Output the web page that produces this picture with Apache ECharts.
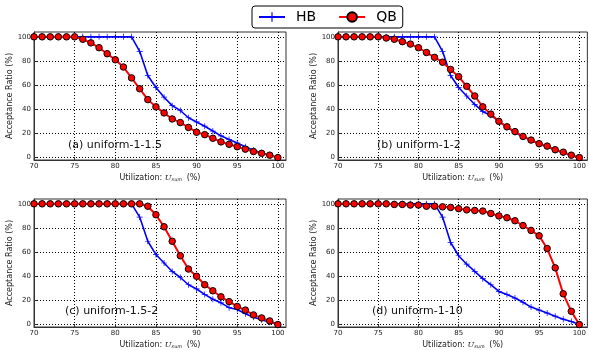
<!DOCTYPE html>
<html>
<head>
<meta charset="utf-8">
<script src="https://cdn.jsdelivr.net/npm/echarts@6/dist/echarts.min.js"></script>
<style>
  html, body { margin: 0; padding: 0; background: #fff; }
  #chart { width: 589px; height: 350px; }
</style>
</head>
<body>
<div id="chart"></div>
<script>
// utilization (%) on the x axis
const utilization = [70, 71, 72, 73, 74, 75, 76, 77, 78, 79, 80, 81, 82, 83, 84, 85,
  86, 87, 88, 89, 90, 91, 92, 93, 94, 95, 96, 97, 98, 99, 100];

// acceptance ratio (%), one pair per panel
const hbA = [100, 100, 100, 100, 100, 100, 100, 100, 100, 100, 100, 100, 100, 88, 68, 58,
  50, 43, 39, 33, 29.5, 26, 22, 18, 15, 12, 9, 6, 4, 2, 0];
const qbA = [100, 100, 100, 100, 100, 100, 98, 95, 91, 86, 81, 75, 66, 57, 48, 42,
  37, 32, 29, 25, 21, 19, 16, 13, 11, 9, 7, 5, 3.5, 2, 0];

const hbB = [100, 100, 100, 100, 100, 100, 100, 100, 100, 100, 100, 100, 100, 88, 68, 58,
  51, 44, 38, 35, 30, 25, 21, 17, 14.5, 11, 9, 6, 4, 2, 0];
const qbB = [100, 100, 100, 100, 100, 100, 99, 98, 96, 94, 91, 87, 83, 79, 73, 67,
  59, 51, 42, 36, 30, 25.5, 21.5, 17.5, 14.5, 11.5, 9.5, 6.5, 4.5, 2, 0];

const hbC = [100, 100, 100, 100, 100, 100, 100, 100, 100, 100, 100, 100, 100, 89, 69, 58,
  51, 44, 39, 33, 29.5, 25, 21, 18, 14, 12.5, 9, 6, 4, 2, 0];
const qbC = [100, 100, 100, 100, 100, 100, 100, 100, 100, 100, 100, 100, 100, 100, 98, 91,
  81, 69, 57, 46, 40, 33, 28, 23, 19, 15, 12, 8, 5.5, 3, 0];

const hbD = [100, 100, 100, 100, 100, 100, 100, 100, 100, 100, 100, 100, 100, 89, 68, 57,
  50, 44, 38, 33, 27.5, 25, 22, 18.5, 14.5, 12, 9.5, 7, 4.5, 2.5, 0];
const qbD = [100, 100, 100, 100, 100, 100, 100, 99.5, 99.5, 99, 99, 98, 98, 97.5, 97, 96,
  95, 94.5, 94, 92, 90, 88.5, 86, 82, 78, 73.5, 63, 47, 25.5, 11, 0];

const xTicks = [70, 75, 80, 85, 90, 95, 100];
const yTicks = [0, 20, 40, 60, 80, 100];

const panelLabels = ['(a) uniform-1-1.5', '(b) uniform-1-2', '(c) uniform-1.5-2', '(d) uniform-1-10'];
const panelData = [[hbA, qbA], [hbB, qbB], [hbC, qbC], [hbD, qbD]];

const FONT = 'DejaVu Sans';
const plus = 'path://M4.4,0H5.6V4.4H10V5.6H5.6V10H4.4V5.6H0V4.4H4.4Z';

const grids = [
  { left: 34, top: 32, width: 252, height: 128 },
  { left: 338, top: 32, width: 250, height: 128 },
  { left: 34, top: 199, width: 252, height: 129 },
  { left: 338, top: 199, width: 250, height: 129 },
];
const labelPos = [[68, 147], [377, 147], [65, 313], [372, 313]];

const chart = echarts.init(document.getElementById('chart'));

const pairs = (ys) => utilization.map((x, i) => [x, ys[i]]);

const dotted = { show: true, lineStyle: { color: '#000', width: 1, type: [1, 2] } };

const option = {
  animation: false,
  textStyle: { fontFamily: FONT },
  legend: {
    data: ['HB', 'QB'],
    left: 252,
    top: 6,
    padding: [4, 6, 4, 6],
    itemGap: 22,
    itemWidth: 26,
    itemHeight: 12,
    borderColor: '#000',
    borderWidth: 1,
    borderRadius: 3,
    textStyle: { fontSize: 14, color: '#000', fontFamily: FONT, padding: [0, 0, 0, 6] },
  },
  grid: grids.map((g) => ({ ...g, show: true, borderColor: '#333', borderWidth: 1 })),
  xAxis: grids.map((g, i) => ({
    gridIndex: i,
    type: 'value',
    min: 70,
    max: 101,
    name: 'Utilization: {u|U}{s|sum} (%)',
    nameLocation: 'middle',
    nameGap: 13,
    nameTextStyle: {
      fontSize: 8,
      color: '#222',
      verticalAlign: 'top',
      rich: {
        u: { fontFamily: 'DejaVu Serif', fontStyle: 'italic', fontSize: 8, color: '#222' },
        s: { fontFamily: 'DejaVu Serif', fontStyle: 'italic', fontSize: 5, color: '#222', verticalAlign: 'bottom', padding: [4, 2, 0, 0] },
      },
    },
    axisLine: { show: true, onZero: false, lineStyle: { color: '#333' } },
    axisTick: { show: true, inside: true, length: 3, customValues: xTicks, lineStyle: { color: '#333' } },
    axisLabel: { fontSize: 7, color: '#222', margin: 3, customValues: xTicks },
    splitLine: dotted,
  })),
  yAxis: grids.map((g, i) => ({
    gridIndex: i,
    type: 'value',
    min: -2,
    max: 104,
    name: 'Acceptance Ratio (%)',
    nameLocation: 'middle',
    nameGap: 16,
    nameTextStyle: { fontSize: 8, color: '#222' },
    axisLine: { show: true, onZero: false, lineStyle: { color: '#333' } },
    axisTick: { show: true, inside: true, length: 3, customValues: yTicks, lineStyle: { color: '#333' } },
    axisLabel: { fontSize: 7, color: '#222', margin: 3, customValues: yTicks },
    splitLine: dotted,
  })),
  series: panelData.flatMap(([hb, qb], i) => [
    {
      name: 'HB',
      type: 'line',
      xAxisIndex: i,
      yAxisIndex: i,
      data: pairs(hb),
      symbol: plus,
      symbolSize: 6,
      showSymbol: true,
      lineStyle: { color: '#0000ff', width: 1.6 },
      itemStyle: { color: '#0000ff' },
      z: 2,
    },
    {
      name: 'QB',
      type: 'line',
      xAxisIndex: i,
      yAxisIndex: i,
      data: pairs(qb),
      symbol: 'circle',
      symbolSize: 6.5,
      showSymbol: true,
      lineStyle: { color: '#ff0000', width: 2 },
      itemStyle: { color: '#ff0000', borderColor: '#000', borderWidth: 1 },
      z: 3,
    },
  ]),
  graphic: panelLabels.map((t, i) => ({
    type: 'text',
    left: labelPos[i][0],
    top: labelPos[i][1] - 7,
    z: 10,
    style: { text: t, fontSize: 11, fontFamily: FONT, fill: '#111' },
  })),
};

chart.setOption(option);
</script>
</body>
</html>
